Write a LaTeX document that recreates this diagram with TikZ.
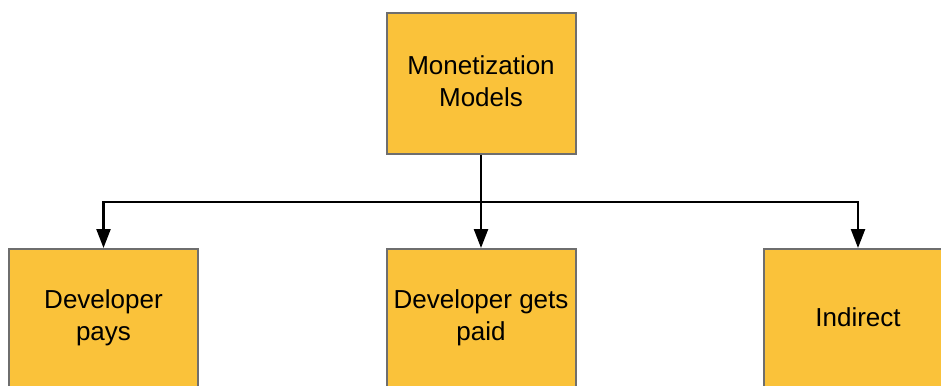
\documentclass[tikz,border=0pt]{standalone}
\usepackage{fontspec}
\setmainfont{Liberation Sans}
\usetikzlibrary{arrows.meta}
\definecolor{boxfill}{HTML}{FAC23A}
\definecolor{boxline}{HTML}{6E6E6E}
\begin{document}
\begin{tikzpicture}[x=1pt,y=-1pt,
  modelbox/.style={draw=boxline,line width=2pt,fill=boxfill,
    minimum width=189pt,minimum height=141pt,inner sep=0pt},
  boxtext/.style={inner sep=0pt,align=center,yshift=2pt,
    font=\fontsize{26}{32}\selectfont},
  link/.style={draw=black,line width=2.4pt,line join=miter,
    -{Triangle[length=19pt,width=14pt]}}]
  \useasboundingbox (0,0) rectangle (941,385);
  \begin{scope}
    \clip (0,0) rectangle (941,385);
    % boxes
    \node[modelbox] (top) at (481,83.5) {};
    \node[modelbox] (pays) at (103.5,319.5) {};
    \node[modelbox] (paid) at (481,319.5) {};
    \node[modelbox] (ind) at (858,319.5) {};
    % captions
    \node[boxtext] (topT) at (top) {Monetization\\Models};
    \node[boxtext] (paysT) at (pays) {Developer\\pays};
    \node[boxtext] (paidT) at (paid) {Developer gets\\paid};
    \node[boxtext] (indT) at (ind) {Indirect};
    % connectors
    \coordinate (split) at (481,202);
    \draw[line width=2.4pt] (top.south) -- (split);
    \draw[link] (split) -| (pays.north);
    \draw[link] (split) -- (paid.north);
    \draw[link] (split) -| (ind.north);
  \end{scope}
\end{tikzpicture}
\end{document}
